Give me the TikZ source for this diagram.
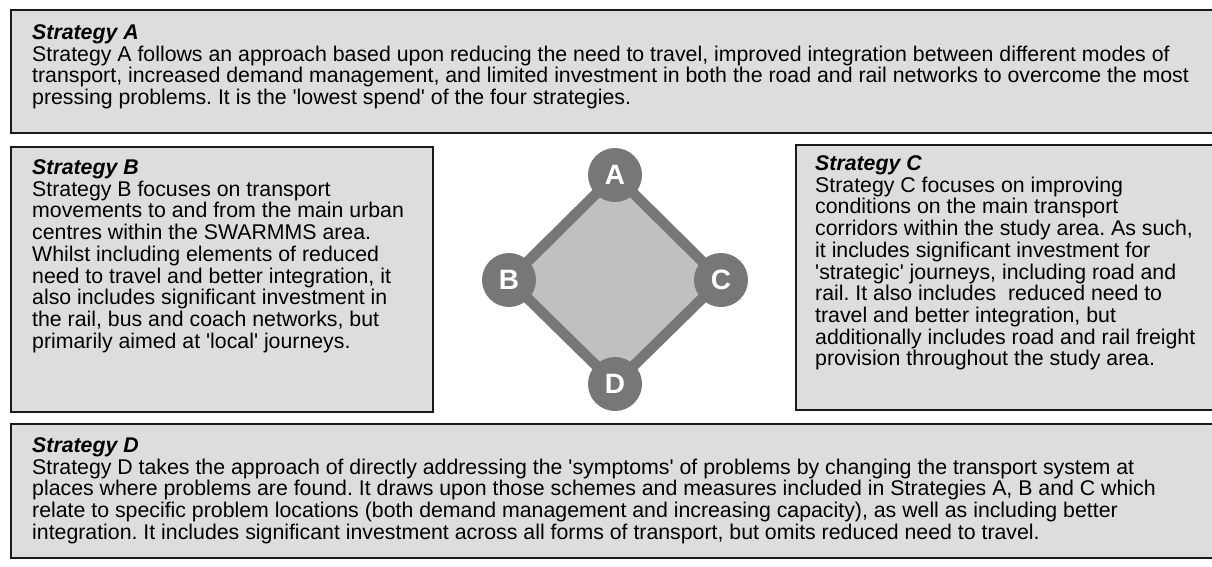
\documentclass[tikz,border=0pt]{standalone}
\usepackage{fontspec}
\setmainfont{Liberation Sans}[Ligatures=TeXOff]
\usepackage{tikz}
\usetikzlibrary{positioning}
\usetikzlibrary{backgrounds}

\definecolor{boxgrey}{HTML}{DDDDDD}
\definecolor{ringgrey}{HTML}{777777}
\definecolor{innergrey}{HTML}{C0C0C0}

\frenchspacing

\begin{document}
\begin{tikzpicture}[x=1pt,y=-1pt,
  stratbox/.style={draw=black!90,line width=2pt,fill=boxgrey,anchor=north west,inner sep=0pt},
  strattext/.style={anchor=north west,align=left,inner sep=0pt,font=\fontsize{21.3}{21.7}\selectfont},
  corner/.style={shape=circle,fill=ringgrey,text=white,minimum size=54pt,inner sep=0pt,font=\fontsize{28}{28}\selectfont\bfseries}]

\useasboundingbox (0,0) rectangle (1212,566);
\clip (0,0) rectangle (1212,566);

% Strategy boxes
\node[stratbox,minimum width=1215pt,minimum height=123pt] (SA) at (10,9) {};
\node[stratbox,minimum width=422pt,minimum height=265pt] (SB) at (10,146) {};
\node[stratbox,minimum width=420pt,minimum height=265pt] (SC) at (795,144) {};
\node[stratbox,minimum width=1215pt,minimum height=134pt] (SD) at (10,423) {};

% Box texts
\node[strattext] (TA) at (32,24.5) {\textbf{\textit{Strategy A}}\\
Strategy A follows an approach based upon reducing the need to travel, improved integration between different modes of\\
transport, increased demand management, and limited investment in both the road and rail networks to overcome the most\\
pressing problems. It is the 'lowest spend' of the four strategies.};

\node[strattext] (TB) at (32,159.5) {\textbf{\textit{Strategy B}}\\
Strategy B focuses on transport\\
movements to and from the main urban\\
centres within the SWARMMS area.\\
Whilst including elements of reduced\\
need to travel and better integration, it\\
also includes significant investment in\\
the rail, bus and coach networks, but\\
primarily aimed at 'local' journeys.};

\node[strattext] (TC) at (815,155.5) {\textbf{\textit{Strategy C}}\\
Strategy C focuses on improving\\
conditions on the main transport\\
corridors within the study area. As such,\\
it includes significant investment for\\
'strategic' journeys, including road and\\
rail. It also includes\ \ reduced need to\\
travel and better integration, but\\
additionally includes road and rail freight\\
provision throughout the study area.};

\node[strattext] (TD) at (32,437.5) {\textbf{\textit{Strategy D}}\\
Strategy D takes the approach of directly addressing the 'symptoms' of problems by changing the transport system at\\
places where problems are found. It draws upon those schemes and measures included in Strategies A, B and C which\\
relate to specific problem locations (both demand management and increasing capacity), as well as including better\\
integration. It includes significant investment across all forms of transport, but omits reduced need to travel.};

% Diamond corners
\node[corner] (A) at (615,175) {A};
\node[corner] (B) at (509,280) {B};
\node[corner] (C) at (721,280) {C};
\node[corner] (D) at (615,384) {D};

\begin{pgfonlayer}{background}
\draw[draw=ringgrey,fill=innergrey,line width=10.5pt,line join=round] (A.center) -- (C.center) -- (D.center) -- (B.center) -- cycle;
\end{pgfonlayer}

\end{tikzpicture}
\end{document}
